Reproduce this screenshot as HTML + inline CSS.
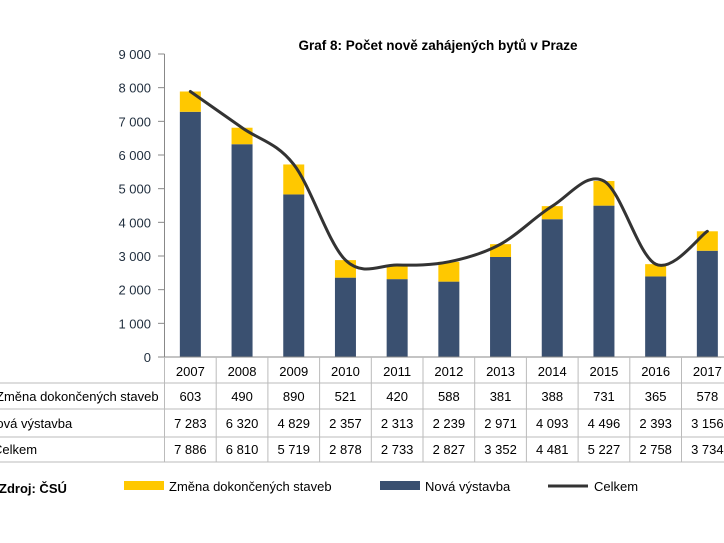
<!DOCTYPE html>
<html><head><meta charset="utf-8"><style>
body{margin:0;background:#fff;}
svg{display:block;font-family:"Liberation Sans",Arial,sans-serif;}
</style></head><body>
<svg id="s" width="724" height="543" xmlns="http://www.w3.org/2000/svg"></svg>
<script>
const years=[2007,2008,2009,2010,2011,2012,2013,2014,2015,2016,2017];
const zm=[603,490,890,521,420,588,381,388,731,365,578];
const nv=[7283,6320,4829,2357,2313,2239,2971,4093,4496,2393,3156];
const ce=[7886,6810,5719,2878,2733,2827,3352,4481,5227,2758,3734];
const X0=164.5,W=51.7,Y0=357,K=(357-54)/9000;
const y=v=>Y0-v*K, cx=i=>X0+W*i+W/2;
let h='';
const fmt=n=>n>=1000?Math.floor(n/1000)+' '+String(n%1000).padStart(3,'0'):String(n);
h+=`<text x="438" y="50" text-anchor="middle" font-size="13.5" font-weight="bold" fill="#000">Graf 8: Počet nově zahájených bytů v Praze</text>`;
for(let t=0;t<=9;t++){const yy=y(t*1000);
h+=`<line x1="158" y1="${yy}" x2="${X0}" y2="${yy}" stroke="#888"/>`;
h+=`<text x="151" y="${yy+5}" text-anchor="end" font-size="13" fill="#1f2d3d">${fmt(t*1000)}</text>`;}
h+=`<line x1="${X0}" y1="54" x2="${X0}" y2="${Y0}" stroke="#888"/>`;
for(let i=0;i<11;i++){const c=cx(i);
h+=`<rect x="${c-10.5}" y="${y(nv[i])}" width="21" height="${nv[i]*K}" fill="#3a5070"/>`;
h+=`<rect x="${c-10.5}" y="${y(ce[i])}" width="21" height="${zm[i]*K}" fill="#ffc800"/>`;}
let p=ce.map((v,i)=>[cx(i),y(v)]);
let d=`M${p[0][0]},${p[0][1]}`;const t=1/6;
for(let i=0;i<p.length-1;i++){const a=p[Math.max(i-1,0)],b=p[i],c=p[i+1],e=p[Math.min(i+2,p.length-1)];
d+=` C${b[0]+(c[0]-a[0])*t},${b[1]+(c[1]-a[1])*t} ${c[0]-(e[0]-b[0])*t},${c[1]-(e[1]-b[1])*t} ${c[0]},${c[1]}`;}
h+=`<path d="${d}" fill="none" stroke="#333" stroke-width="3" stroke-linecap="round"/>`;
const hl=[383,409,437,462];
h+=`<line x1="${X0}" y1="${Y0}" x2="724" y2="${Y0}" stroke="#888"/>`;
hl.forEach(v=>h+=`<line x1="0" y1="${v}" x2="724" y2="${v}" stroke="#bbb"/>`);
for(let i=0;i<=11;i++){const xx=X0+W*i;h+=`<line x1="${xx}" y1="${Y0}" x2="${xx}" y2="462" stroke="#bbb"/>`;}
const rows=[[years,376],[zm,401],[nv,428],[ce,454]];
rows.forEach(([arr,yy])=>arr.forEach((v,i)=>h+=`<text x="${cx(i)}" y="${yy}" text-anchor="middle" font-size="13" fill="#000">${arr===years?v:fmt(v)}</text>`));
h+=`<text x="-4" y="401" font-size="13">Změna dokončených staveb</text>`;
h+=`<text x="-13" y="428" font-size="13">Nová výstavba</text>`;
h+=`<text x="-7" y="454" font-size="13">Celkem</text>`;
h+=`<text x="-1" y="493" font-size="13" font-weight="bold">Zdroj: ČSÚ</text>`;
h+=`<rect x="124" y="481" width="40" height="9" fill="#ffc800"/><text x="169" y="491" font-size="13">Změna dokončených staveb</text>`;
h+=`<rect x="380" y="481" width="40" height="9" fill="#3a5070"/><text x="425" y="491" font-size="13">Nová výstavba</text>`;
h+=`<line x1="548" y1="486" x2="588" y2="486" stroke="#333" stroke-width="3"/><text x="594" y="491" font-size="13">Celkem</text>`;
document.getElementById('s').innerHTML=h;
</script>
</body></html>
